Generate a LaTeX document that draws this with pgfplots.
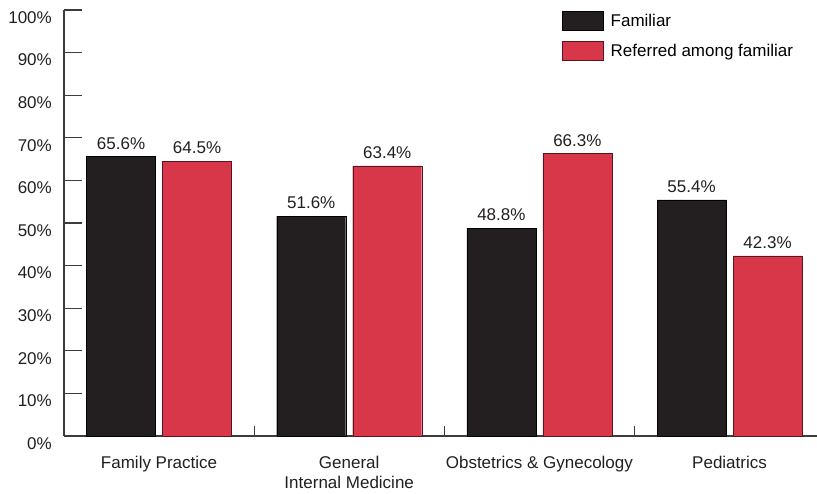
\documentclass[border=0pt]{standalone}
\usepackage{fontspec}
\setmainfont{Liberation Sans}
\usepackage{pgfplots}
\pgfplotsset{compat=1.18}

\definecolor{famblack}{RGB}{35,31,32}
\definecolor{refred}{RGB}{216,55,73}
\definecolor{axisgray}{RGB}{60,60,60}

\begin{document}
\begin{tikzpicture}
\begin{axis}[
  at={(0,0)}, anchor=south west,
  font=\fontsize{17}{20}\selectfont,
  scale only axis,
  width=753pt, height=426pt,
  ybar=7pt, bar width=69pt,
  xmin=0.5, xmax=4.46,
  ymin=0, ymax=100,
  axis lines*=left,
  axis line style={axisgray, line width=1.2pt},
  /pgf/number format/assume math mode=true,
  ytick={0,10,...,100},
  yticklabel={\pgfmathprintnumber{\tick}\%},
  yticklabel style={inner sep=0pt, xshift=-12pt, yshift=-7.5pt, text=famblack},
  tick align=inside,
  major tick length=18pt,
  tick style={axisgray, line width=1.2pt},
  xtick={1,2,3,4},
  xticklabels={Family Practice, {General\\Internal Medicine}, Obstetrics \& Gynecology, Pediatrics},
  xticklabel style={align=center, inner sep=0pt, yshift=-20pt, text=famblack},
  major x tick style={draw=none},
  extra x ticks={1.5,2.5,3.5},
  extra x tick labels={},
  extra x tick style={major x tick style={draw=axisgray, line width=1.2pt}, major tick length=10pt},
  nodes near coords={\pgfmathprintnumber[fixed,fixed zerofill,precision=1]{\pgfplotspointmeta}\%},
  nodes near coords style={inner sep=0pt, yshift=7pt, text=famblack},
  legend style={draw=none, fill=none, inner sep=0pt, at={(rel axis cs:0.6614,0.997)}, anchor=north west, row sep=10pt, cells={anchor=west}},
  legend image code/.code={\draw[#1, line width=0.5pt] (0pt,-9.5pt) rectangle (41pt,9.5pt); \path (46pt,0pt);},
  clip=false,
]
\addplot[fill=famblack, draw=black] coordinates {(1,65.6) (2,51.6) (3,48.8) (4,55.4)};
\addplot[fill=refred, draw=black!60!refred] coordinates {(1,64.5) (2,63.4) (3,66.3) (4,42.3)};
\legend{Familiar, Referred among familiar}
\end{axis}
\pgfresetboundingbox
\path (-64pt,-57pt) rectangle (753pt,436pt);
\end{tikzpicture}
\end{document}
